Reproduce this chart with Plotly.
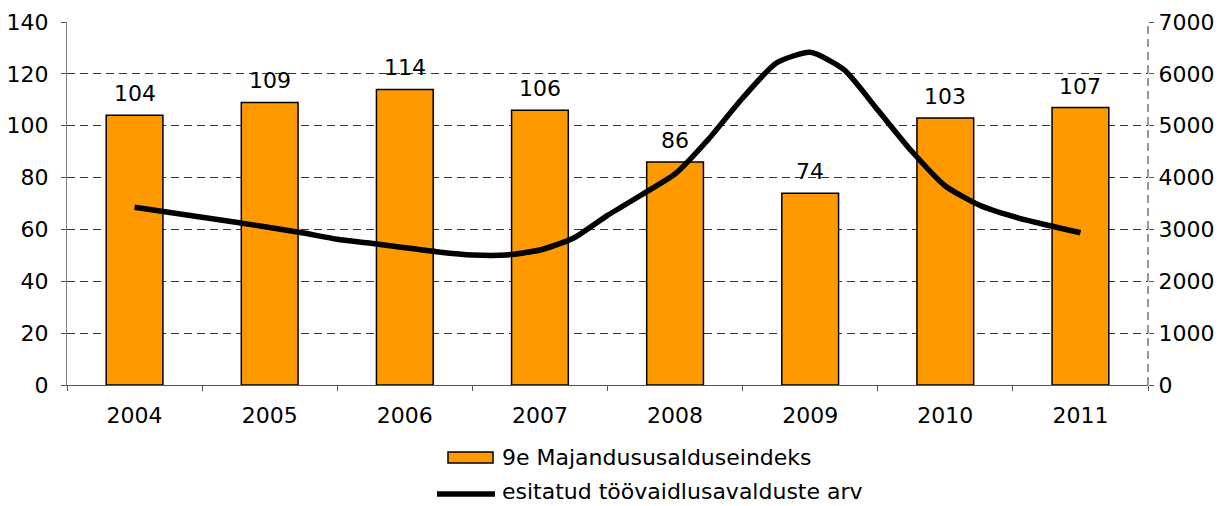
import plotly.graph_objects as go

years = ["2004", "2005", "2006", "2007", "2008", "2009", "2010", "2011"]
index_values = [104, 109, 114, 106, 86, 74, 103, 107]

# quarterly positions (year index + quarter fraction) and number of applications
quarter_pos = [0.0, 0.25, 0.5, 0.75, 1.0, 1.25, 1.5, 1.75, 2.0, 2.25, 2.5, 2.75,
               3.0, 3.25, 3.5, 3.75, 4.0, 4.25, 4.5, 4.75, 5.0, 5.25, 5.5, 5.75,
               6.0, 6.25, 6.5, 6.75, 7.0]
applications = [3427, 3330, 3234, 3138, 3037, 2931, 2810, 2734, 2647, 2565, 2507, 2507,
                2603, 2835, 3270, 3664, 4069, 4748, 5535, 6209, 6415, 6080, 5303, 4512,
                3838, 3471, 3250, 3085, 2936]

bar_name = "9e Majandususalduseindeks"
line_name = "esitatud töövaidlusavalduste arv"

FONT = "Verdana, DejaVu Sans, sans-serif"
FS = 22
BAR_COLOR = "#FF9900"

W, H = 1228, 506
ML, MR, MT, MB = 67, 80, 22, 121
PW, PH = W - ML - MR, H - MT - MB


def px_x(x):
    return (x - ML) / PW


def px_y(y):
    return (H - MB - y) / PH


fig = go.Figure()
fig.add_trace(go.Bar(
    x=list(range(len(years))), y=index_values, name=bar_name,
    marker=dict(color=BAR_COLOR, line=dict(color="#000000", width=1.5)),
    width=0.42, showlegend=False,
))
fig.add_trace(go.Scatter(
    x=quarter_pos, y=applications, name=line_name, yaxis="y2",
    mode="lines", line=dict(color="#000000", width=5.5, shape="spline", smoothing=0.6),
    showlegend=False,
))

for i, v in enumerate(index_values):
    fig.add_annotation(x=i, y=v, text=str(v), showarrow=False, yanchor="bottom",
                       yshift=7, font=dict(family=FONT, size=FS, color="#000"))

# dashed right axis line
fig.add_shape(type="line", xref="paper", yref="paper", x0=1, x1=1, y0=0, y1=1,
              line=dict(color="#333333", width=1, dash="8px,5px"))

# custom legend
fig.add_shape(type="rect", xref="paper", yref="paper",
              x0=px_x(448), x1=px_x(493), y0=px_y(463), y1=px_y(452),
              fillcolor=BAR_COLOR, line=dict(color="#000", width=1.5))
fig.add_annotation(xref="paper", yref="paper", x=px_x(500), y=px_y(457),
                   xanchor="left", yanchor="middle", text=bar_name, showarrow=False,
                   font=dict(family=FONT, size=FS, color="#000"))
fig.add_shape(type="line", xref="paper", yref="paper",
              x0=px_x(437), x1=px_x(495), y0=px_y(494), y1=px_y(494),
              line=dict(color="#000", width=5.5))
fig.add_annotation(xref="paper", yref="paper", x=px_x(500), y=px_y(491),
                   xanchor="left", yanchor="middle", text=line_name, showarrow=False,
                   font=dict(family=FONT, size=FS, color="#000"))

fig.update_layout(
    width=W, height=H,
    margin=dict(l=ML, r=MR, t=MT, b=MB, autoexpand=False),
    paper_bgcolor="white", plot_bgcolor="white",
    font=dict(family=FONT, size=FS, color="#000"),
    showlegend=False,
    xaxis=dict(range=[-0.5, 7.5], tickmode="array", tickvals=list(range(len(years))),
               ticktext=years, ticks="", showgrid=False, showline=True,
               linecolor="#555555", linewidth=1, zeroline=False,
               minor=dict(tickmode="linear", tick0=-0.5, dtick=1, ticks="outside",
                          ticklen=5, tickcolor="#555555", showgrid=False),
               ticklabelstandoff=11),
    yaxis=dict(range=[0, 140], dtick=20, showgrid=True, gridcolor="#333333",
               griddash="8px,5px", gridwidth=1, showline=True, linecolor="#808080",
               linewidth=1, ticks="outside", ticklen=5, tickcolor="#555555",
               zeroline=False, ticklabelstandoff=8),
    yaxis2=dict(range=[0, 7000], dtick=1000, overlaying="y", side="right",
                showgrid=False, showline=False, ticks="outside", ticklen=5,
                tickcolor="#555555", zeroline=False, ticklabelstandoff=0),
)

fig.write_html("out.html", config={"displayModeBar": False},
               post_script="document.body.style.margin='0';")
